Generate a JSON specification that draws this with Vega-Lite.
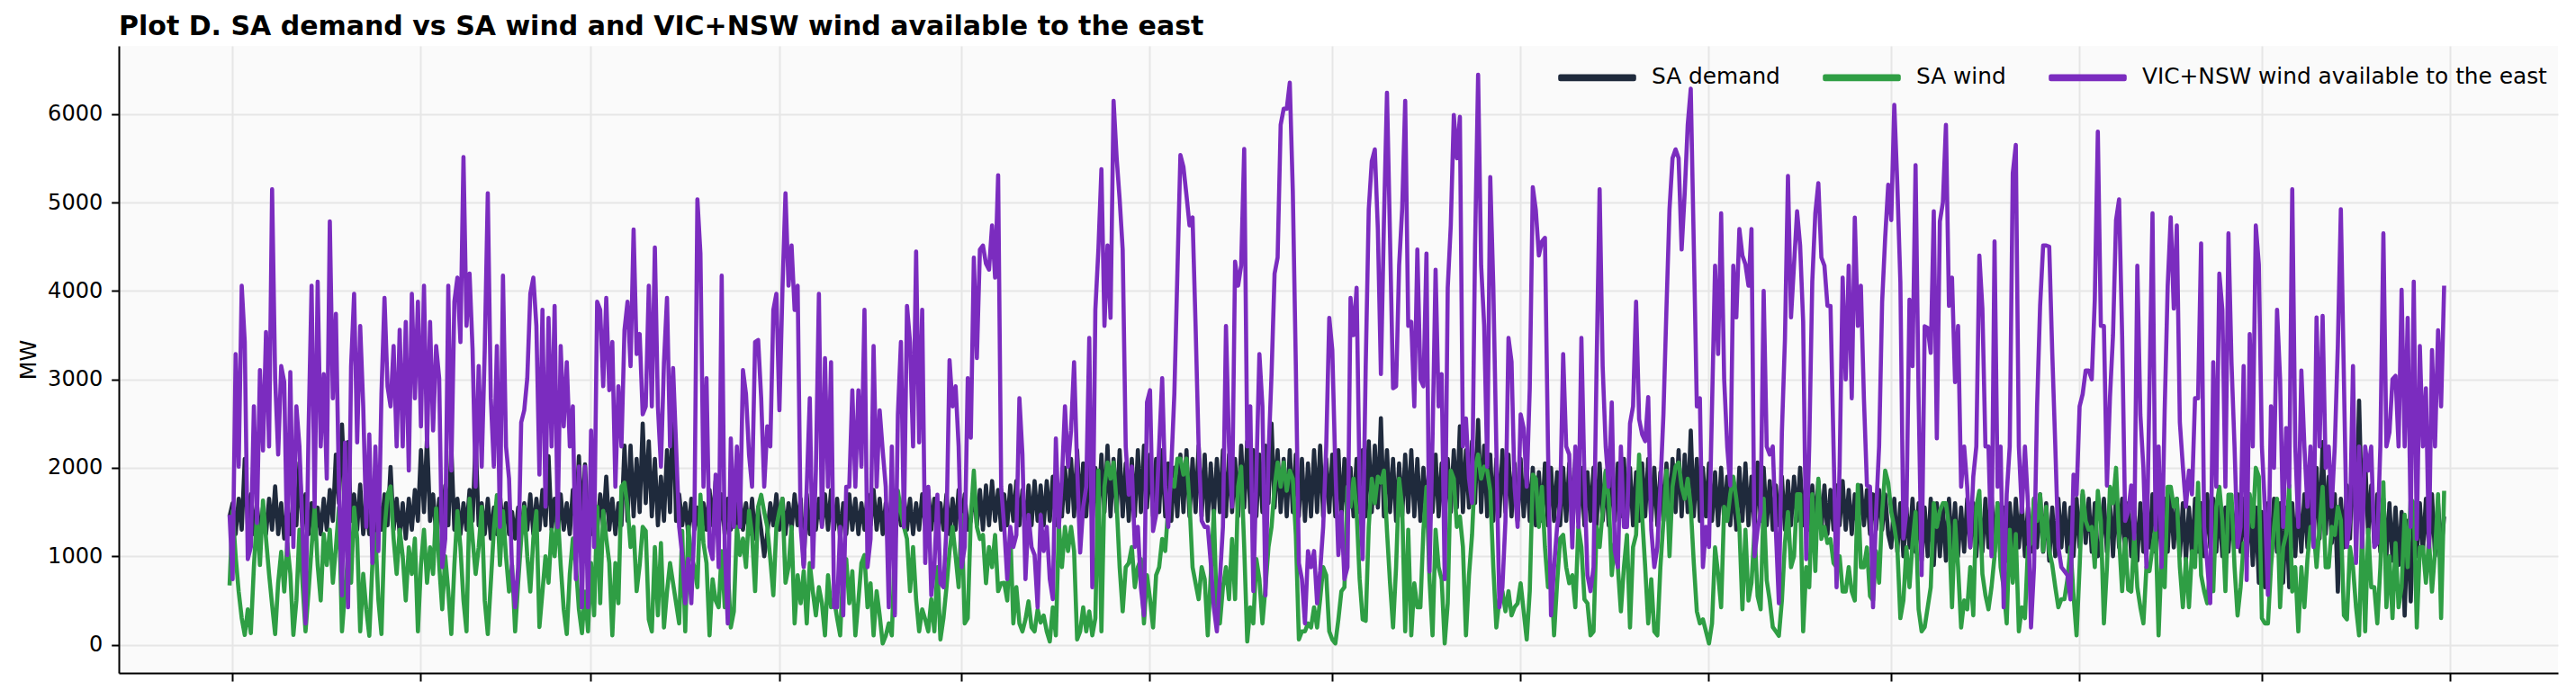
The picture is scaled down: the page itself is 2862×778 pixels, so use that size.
{
"$schema":"https://vega.github.io/schema/vega-lite/v6.json",
"width":2710,"height":697,
"autosize":{"type":"none"},
"padding":{"left":132,"top":51,"right":20,"bottom":30},
"background":"#ffffff",
"title":{"text":"Plot D. SA demand vs SA wind and VIC+NSW wind available to the east","anchor":"start","frame":"group","font":"DejaVu Sans","fontSize":30,"fontWeight":"bold","color":"#000000","offset":-2},
"config":{
"view":{"fill":"#fafafa","stroke":null},
"axis":{"domainColor":"#000000","domainWidth":2,"tickColor":"#000000","tickWidth":2,"gridColor":"#e6e6e6","gridWidth":2,"labelFont":"DejaVu Sans","labelFontSize":24,"labelColor":"#000000","titleFont":"DejaVu Sans","titleFontSize":24,"titleFontWeight":"normal","titleColor":"#000000"},
"legend":{"symbolType":"M-1,-0.04H1V0.04H-1Z","symbolSize":6724,"labelFont":"DejaVu Sans","labelFontSize":24.8,"labelColor":"#000000","labelOffset":17,"columnPadding":47,"padding":0,"labelLimit":0},
"line":{"strokeWidth":4.6,"strokeJoin":"round"}
},
"data":{"values":[
{"x":0,"d":1450,"w":670,"v":1468},{"x":0.5,"d":1600,"w":1510,"v":741},{"x":1,"d":1250,"w":1000,"v":3286},{"x":1.5,"d":1650,"w":600,"v":2013},{"x":2,"d":1300,"w":300,"v":4059},{"x":2.5,"d":2100,"w":110,"v":3422},{"x":3,"d":1350,"w":400,"v":968},{"x":3.5,"d":1700,"w":130,"v":1104},{"x":4,"d":1250,"w":880,"v":2695},{"x":4.5,"d":1600,"w":1470,"v":1377},
{"x":5,"d":1200,"w":900,"v":3104},{"x":5.5,"d":1550,"w":1630,"v":2195},{"x":6,"d":1250,"w":1200,"v":3536},{"x":6.5,"d":1650,"w":800,"v":2241},{"x":7,"d":1300,"w":450,"v":5150},{"x":7.5,"d":1790,"w":120,"v":3013},{"x":8,"d":1250,"w":700,"v":2150},{"x":8.5,"d":1600,"w":1050,"v":3150},{"x":9,"d":1200,"w":600,"v":2968},{"x":9.5,"d":1550,"w":1150,"v":1014},
{"x":10,"d":1250,"w":800,"v":3081},{"x":10.5,"d":1650,"w":110,"v":1104},{"x":11,"d":1350,"w":500,"v":2695},{"x":11.5,"d":2060,"w":1300,"v":2241},{"x":12,"d":1300,"w":700,"v":1332},{"x":12.5,"d":1700,"w":150,"v":241},{"x":13,"d":1250,"w":600,"v":2422},{"x":13.5,"d":1600,"w":1100,"v":4059},{"x":14,"d":1200,"w":1550,"v":1559},{"x":14.5,"d":1550,"w":900,"v":4104},
{"x":15,"d":1250,"w":500,"v":2241},{"x":15.5,"d":1650,"w":1250,"v":3059},{"x":16,"d":1300,"w":900,"v":1877},{"x":16.5,"d":1750,"w":1300,"v":4786},{"x":17,"d":1400,"w":700,"v":2786},{"x":17.5,"d":2150,"w":1100,"v":3740},{"x":18,"d":1600,"w":1550,"v":1786},{"x":18.5,"d":2490,"w":150,"v":559},{"x":19,"d":1700,"w":600,"v":2286},{"x":19.5,"d":2290,"w":1000,"v":423},
{"x":20,"d":1400,"w":700,"v":3150},{"x":20.5,"d":1700,"w":1550,"v":3968},{"x":21,"d":1300,"w":1200,"v":2286},{"x":21.5,"d":1810,"w":150,"v":3604},{"x":22,"d":1250,"w":800,"v":2695},{"x":22.5,"d":1600,"w":400,"v":1332},{"x":23,"d":1250,"w":100,"v":2377},{"x":23.5,"d":1550,"w":900,"v":923},{"x":24,"d":1200,"w":1250,"v":2241},{"x":24.5,"d":1650,"w":500,"v":1059},
{"x":25,"d":1300,"w":120,"v":2832},{"x":25.5,"d":1700,"w":1300,"v":3922},{"x":26,"d":1350,"w":1700,"v":2922},{"x":26.5,"d":2010,"w":1790,"v":2695},{"x":27,"d":1300,"w":1200,"v":3377},{"x":27.5,"d":1650,"w":800,"v":2241},{"x":28,"d":1250,"w":1300,"v":3559},{"x":28.5,"d":1600,"w":1000,"v":2241},{"x":29,"d":1200,"w":500,"v":3650},{"x":29.5,"d":1650,"w":1100,"v":1968},
{"x":30,"d":1300,"w":800,"v":3968},{"x":30.5,"d":1750,"w":1200,"v":2786},{"x":31,"d":1400,"w":150,"v":3877},{"x":31.5,"d":2200,"w":900,"v":2468},{"x":32,"d":1500,"w":1300,"v":4059},{"x":32.5,"d":2350,"w":700,"v":2241},{"x":33,"d":1400,"w":1100,"v":3650},{"x":33.5,"d":1700,"w":800,"v":2422},{"x":34,"d":1250,"w":1540,"v":3377},{"x":34.5,"d":1650,"w":900,"v":3013},
{"x":35,"d":1300,"w":400,"v":877},{"x":35.5,"d":1800,"w":1000,"v":1195},{"x":36,"d":1350,"w":600,"v":4059},{"x":36.5,"d":2240,"w":120,"v":1968},{"x":37,"d":1300,"w":900,"v":3877},{"x":37.5,"d":1650,"w":1510,"v":4150},{"x":38,"d":1250,"w":1100,"v":3422},{"x":38.5,"d":1600,"w":500,"v":5513},{"x":39,"d":1300,"w":150,"v":3604},{"x":39.5,"d":1750,"w":1650,"v":4195},
{"x":40,"d":1400,"w":1200,"v":3331},{"x":40.5,"d":2310,"w":800,"v":1786},{"x":41,"d":1350,"w":1100,"v":3150},{"x":41.5,"d":1600,"w":1560,"v":2013},{"x":42,"d":1250,"w":500,"v":3331},{"x":42.5,"d":1650,"w":120,"v":5104},{"x":43,"d":1200,"w":700,"v":2786},{"x":43.5,"d":1550,"w":1300,"v":2013},{"x":44,"d":1250,"w":1690,"v":3377},{"x":44.5,"d":1700,"w":900,"v":1332},
{"x":45,"d":1300,"w":1510,"v":4172},{"x":45.5,"d":1600,"w":1000,"v":2241},{"x":46,"d":1250,"w":600,"v":1877},{"x":46.5,"d":1500,"w":900,"v":832},{"x":47,"d":1200,"w":150,"v":423},{"x":47.5,"d":1550,"w":700,"v":877},{"x":48,"d":1250,"w":1200,"v":2513},{"x":48.5,"d":1600,"w":1560,"v":2650},{"x":49,"d":1300,"w":1000,"v":3013},{"x":49.5,"d":1700,"w":600,"v":3968},
{"x":50,"d":1250,"w":1200,"v":4150},{"x":50.5,"d":1650,"w":1510,"v":3604},{"x":51,"d":1300,"w":200,"v":1923},{"x":51.5,"d":1750,"w":600,"v":3786},{"x":52,"d":1350,"w":1000,"v":1559},{"x":52.5,"d":2130,"w":700,"v":3695},{"x":53,"d":1300,"w":1300,"v":2241},{"x":53.5,"d":1650,"w":1000,"v":3831},{"x":54,"d":1250,"w":1510,"v":1332},{"x":54.5,"d":1700,"w":900,"v":3377},
{"x":55,"d":1300,"w":400,"v":2468},{"x":55.5,"d":1600,"w":120,"v":3195},{"x":56,"d":1250,"w":800,"v":2241},{"x":56.5,"d":1750,"w":1200,"v":2695},{"x":57,"d":1400,"w":900,"v":741},{"x":57.5,"d":2130,"w":400,"v":2013},{"x":58,"d":1350,"w":130,"v":423},{"x":58.5,"d":2040,"w":600,"v":2013},{"x":59,"d":1300,"w":150,"v":423},
{"x":59.5,"d":1250,"w":923,"v":2422},{"x":60,"d":1600,"w":332,"v":1104},{"x":60.5,"d":1300,"w":1559,"v":3877},{"x":61,"d":1700,"w":468,"v":3786},{"x":61.5,"d":1350,"w":1513,"v":2922},{"x":62,"d":1900,"w":1200,"v":3922},{"x":62.5,"d":1300,"w":923,"v":2877},{"x":63,"d":1650,"w":105,"v":3422},{"x":63.5,"d":1250,"w":923,"v":1786},{"x":64,"d":1600,"w":468,"v":2922},
{"x":64.5,"d":1350,"w":1786,"v":2241},{"x":65,"d":2250,"w":1832,"v":3559},{"x":65.5,"d":1400,"w":1559,"v":3877},{"x":66,"d":2250,"w":1104,"v":3150},{"x":66.5,"d":1450,"w":1332,"v":4695},{"x":67,"d":2100,"w":605,"v":3286},{"x":67.5,"d":1500,"w":900,"v":3513},{"x":68,"d":2500,"w":1332,"v":2604},{"x":68.5,"d":1600,"w":1286,"v":2695},{"x":69,"d":2300,"w":286,"v":4059},
{"x":69.5,"d":1450,"w":150,"v":2695},{"x":70,"d":2100,"w":1104,"v":4490},{"x":70.5,"d":1350,"w":332,"v":2695},{"x":71,"d":1900,"w":1150,"v":2013},{"x":71.5,"d":1400,"w":195,"v":3195},{"x":72,"d":2200,"w":600,"v":3922},{"x":72.5,"d":1500,"w":923,"v":2241},{"x":73,"d":2790,"w":695,"v":3127},{"x":73.5,"d":1400,"w":468,"v":2241},{"x":74,"d":1700,"w":241,"v":1332},
{"x":74.5,"d":1350,"w":1286,"v":1014},{"x":75,"d":1600,"w":150,"v":468},{"x":75.5,"d":1250,"w":1332,"v":968},{"x":76,"d":1650,"w":1000,"v":468},{"x":76.5,"d":1300,"w":877,"v":1332},{"x":77,"d":1550,"w":650,"v":5036},{"x":77.5,"d":1200,"w":1695,"v":4422},{"x":78,"d":1600,"w":1150,"v":1786},{"x":78.5,"d":1300,"w":923,"v":3013},{"x":79,"d":1750,"w":105,"v":1104},
{"x":79.5,"d":1350,"w":741,"v":968},{"x":80,"d":1850,"w":500,"v":1923},{"x":80.5,"d":1300,"w":423,"v":877},{"x":81,"d":1700,"w":1059,"v":4172},{"x":81.5,"d":1250,"w":423,"v":1104},{"x":82,"d":1650,"w":877,"v":241},{"x":82.5,"d":1300,"w":195,"v":2332},{"x":83,"d":1900,"w":377,"v":1332},{"x":83.5,"d":1350,"w":1332,"v":2241},{"x":84,"d":1700,"w":1014,"v":1332},
{"x":84.5,"d":1300,"w":1200,"v":3104},{"x":85,"d":1600,"w":877,"v":2832},{"x":85.5,"d":1250,"w":1513,"v":2150},{"x":86,"d":1650,"w":1241,"v":1786},{"x":86.5,"d":1200,"w":605,"v":3422},{"x":87,"d":1550,"w":1559,"v":3445},{"x":87.5,"d":1300,"w":1695,"v":2786},{"x":88,"d":1000,"w":1500,"v":1786},{"x":88.5,"d":1250,"w":1332,"v":2468},{"x":89,"d":1600,"w":968,"v":2241},
{"x":89.5,"d":1350,"w":559,"v":3786},{"x":90,"d":1700,"w":1332,"v":3968},{"x":90.5,"d":1300,"w":1513,"v":2650},{"x":91,"d":1650,"w":1650,"v":4013},{"x":91.5,"d":1250,"w":700,"v":5104},{"x":92,"d":1600,"w":877,"v":4059},{"x":92.5,"d":1300,"w":1332,"v":4513},{"x":93,"d":1700,"w":241,"v":3786},{"x":93.5,"d":1350,"w":786,"v":4059},{"x":94,"d":1650,"w":468,"v":1332},
{"x":94.5,"d":900,"w":832,"v":877},{"x":95,"d":1700,"w":241,"v":1786},{"x":95.5,"d":1250,"w":923,"v":2786},{"x":96,"d":1600,"w":600,"v":877},{"x":96.5,"d":1300,"w":332,"v":1968},{"x":97,"d":1650,"w":650,"v":3968},{"x":97.5,"d":1350,"w":468,"v":1332},{"x":98,"d":1700,"w":105,"v":3240},{"x":98.5,"d":1300,"w":786,"v":1786},{"x":99,"d":1750,"w":423,"v":3195},
{"x":99.5,"d":1300,"w":514,"v":423},{"x":100,"d":1650,"w":300,"v":423},{"x":100.5,"d":1200,"w":105,"v":1332},{"x":101,"d":1600,"w":877,"v":332},{"x":101.5,"d":1250,"w":968,"v":1786},{"x":102,"d":1700,"w":468,"v":1786},{"x":102.5,"d":1300,"w":832,"v":2877},{"x":103,"d":1650,"w":105,"v":1786},{"x":103.5,"d":1250,"w":500,"v":2877},{"x":104,"d":1600,"w":923,"v":2013},
{"x":104.5,"d":1300,"w":1014,"v":3786},{"x":105,"d":1700,"w":423,"v":877},{"x":105.5,"d":1350,"w":695,"v":1195},{"x":106,"d":1750,"w":105,"v":3377},{"x":106.5,"d":1300,"w":605,"v":1786},{"x":107,"d":1650,"w":332,"v":2650},{"x":107.5,"d":1250,"w":14,"v":2195},{"x":108,"d":1600,"w":100,"v":1786},{"x":108.5,"d":1300,"w":241,"v":423},{"x":109,"d":1700,"w":105,"v":2241},
{"x":109.5,"d":1250,"w":1104,"v":332},{"x":110,"d":1650,"w":1741,"v":2604},{"x":110.5,"d":1350,"w":1500,"v":3422},{"x":111,"d":1700,"w":1332,"v":1332},{"x":111.5,"d":1300,"w":1195,"v":3831},{"x":112,"d":1650,"w":605,"v":3422},{"x":112.5,"d":1250,"w":1104,"v":2241},{"x":113,"d":1600,"w":514,"v":4445},{"x":113.5,"d":1300,"w":150,"v":2286},{"x":114,"d":1700,"w":400,"v":3786},
{"x":114.5,"d":1350,"w":286,"v":923},{"x":115,"d":1750,"w":150,"v":1786},{"x":115.5,"d":1300,"w":514,"v":559},{"x":116,"d":1650,"w":150,"v":877},{"x":116.5,"d":1250,"w":877,"v":1695},{"x":117,"d":1600,"w":59,"v":695},{"x":117.5,"d":1300,"w":300,"v":650},{"x":118,"d":1700,"w":650,"v":1332},{"x":118.5,"d":1250,"w":1059,"v":3218},{"x":119,"d":1650,"w":1332,"v":2695},
{"x":119.5,"d":1300,"w":1000,"v":2922},{"x":120,"d":1750,"w":650,"v":2241},{"x":120.5,"d":1350,"w":1468,"v":877},{"x":121,"d":1700,"w":241,"v":1104},{"x":121.5,"d":1300,"w":300,"v":3013},
{"x":122,"d":1400,"w":1430,"v":2340},{"x":122.5,"d":1800,"w":1968,"v":4377},{"x":123,"d":1350,"w":1332,"v":3240},{"x":123.5,"d":1750,"w":1195,"v":4468},{"x":124,"d":1300,"w":1241,"v":4513},{"x":124.5,"d":1800,"w":695,"v":4308},{"x":125,"d":1350,"w":1104,"v":4240},{"x":125.5,"d":1850,"w":877,"v":4740},{"x":126,"d":1400,"w":1241,"v":4150},{"x":126.5,"d":1750,"w":605,"v":5308},
{"x":127,"d":1300,"w":695,"v":1786},{"x":127.5,"d":1700,"w":700,"v":1332},{"x":128,"d":1350,"w":500,"v":741},{"x":128.5,"d":1800,"w":1286,"v":1332},{"x":129,"d":1400,"w":241,"v":1104},{"x":129.5,"d":1850,"w":650,"v":1240},{"x":130,"d":1350,"w":241,"v":2786},{"x":130.5,"d":1750,"w":150,"v":2150},{"x":131,"d":1300,"w":286,"v":741},{"x":131.5,"d":1800,"w":490,"v":1468},
{"x":132,"d":1350,"w":195,"v":1104},{"x":132.5,"d":1850,"w":150,"v":1014},{"x":133,"d":1400,"w":400,"v":423},{"x":133.5,"d":1800,"w":250,"v":1468},{"x":134,"d":1350,"w":330,"v":1059},{"x":134.5,"d":1850,"w":150,"v":1332},{"x":135,"d":1400,"w":36,"v":741},{"x":135.5,"d":1900,"w":423,"v":514},{"x":136,"d":1350,"w":105,"v":2332},{"x":136.5,"d":1800,"w":1354,"v":1332},
{"x":137,"d":1450,"w":877,"v":1877},{"x":137.5,"d":2000,"w":1332,"v":2695},{"x":138,"d":1500,"w":1059,"v":2013},{"x":138.5,"d":2100,"w":1332,"v":2422},{"x":139,"d":1450,"w":1059,"v":3195},{"x":139.5,"d":2200,"w":59,"v":2013},{"x":140,"d":1500,"w":150,"v":1041},{"x":140.5,"d":2050,"w":423,"v":1559},{"x":141,"d":1450,"w":150,"v":1786},{"x":141.5,"d":2100,"w":377,"v":3468},
{"x":142,"d":1400,"w":105,"v":650},{"x":142.5,"d":2000,"w":300,"v":3786},{"x":143,"d":1450,"w":1968,"v":4468},{"x":143.5,"d":2150,"w":150,"v":5377},{"x":144,"d":1500,"w":1786,"v":3604},{"x":144.5,"d":2250,"w":2059,"v":4513},{"x":145,"d":1450,"w":1877,"v":3695},{"x":145.5,"d":2100,"w":2059,"v":6150},{"x":146,"d":1500,"w":1604,"v":5513},{"x":146.5,"d":2200,"w":877,"v":5036},
{"x":147,"d":1450,"w":377,"v":4468},{"x":147.5,"d":2050,"w":877,"v":2241},{"x":148,"d":1400,"w":923,"v":1695},{"x":148.5,"d":2100,"w":1104,"v":2013},{"x":149,"d":1450,"w":650,"v":1104},{"x":149.5,"d":2200,"w":877,"v":1332},{"x":150,"d":1500,"w":968,"v":650},{"x":150.5,"d":2250,"w":241,"v":332},{"x":151,"d":1550,"w":786,"v":2740},{"x":151.5,"d":2150,"w":514,"v":2877},
{"x":152,"d":1450,"w":195,"v":1286},{"x":152.5,"d":2100,"w":786,"v":1468},{"x":153,"d":1500,"w":877,"v":2241},{"x":153.5,"d":2200,"w":1195,"v":3013},{"x":154,"d":1450,"w":1059,"v":1786},{"x":154.5,"d":2050,"w":1559,"v":1332},{"x":155,"d":1400,"w":1877,"v":2013},{"x":155.5,"d":2000,"w":1786,"v":2831},{"x":156,"d":1450,"w":2104,"v":4195},{"x":156.5,"d":2150,"w":2104,"v":5536},
{"x":157,"d":1500,"w":1923,"v":5400},{"x":157.5,"d":2200,"w":2104,"v":5081},{"x":158,"d":1450,"w":1604,"v":4740},{"x":158.5,"d":2100,"w":877,"v":4831},{"x":159,"d":1500,"w":695,"v":3604},{"x":159.5,"d":2250,"w":514,"v":2241},{"x":160,"d":1450,"w":877,"v":1400},{"x":160.5,"d":2150,"w":741,"v":1332},{"x":161,"d":1400,"w":105,"v":1332},{"x":161.5,"d":2050,"w":786,"v":923},
{"x":162,"d":1450,"w":1513,"v":423},{"x":162.5,"d":2100,"w":332,"v":150},{"x":163,"d":1500,"w":241,"v":741},{"x":163.5,"d":2200,"w":650,"v":1332},{"x":164,"d":1450,"w":877,"v":3604},{"x":164.5,"d":2150,"w":514,"v":2241},{"x":165,"d":1500,"w":1195,"v":1559},{"x":165.5,"d":2100,"w":514,"v":4331},{"x":166,"d":1450,"w":1786,"v":4059},{"x":166.5,"d":2250,"w":2013,"v":4286},
{"x":167,"d":1550,"w":1104,"v":5604},{"x":167.5,"d":2300,"w":36,"v":2241},{"x":168,"d":1500,"w":423,"v":2695},{"x":168.5,"d":2200,"w":241,"v":605},{"x":169,"d":1450,"w":968,"v":1923},{"x":169.5,"d":2150,"w":741,"v":3286},{"x":170,"d":1500,"w":241,"v":2695},{"x":170.5,"d":2250,"w":650,"v":559},{"x":171,"d":1600,"w":1104,"v":2150},{"x":171.5,"d":2500,"w":1332,"v":3059},
{"x":172,"d":1550,"w":1786,"v":4195},{"x":172.5,"d":2200,"w":2059,"v":4377},{"x":173,"d":1500,"w":1786,"v":5877},{"x":173.5,"d":2100,"w":2059,"v":6059},{"x":174,"d":1450,"w":1741,"v":6059},{"x":174.5,"d":2200,"w":1968,"v":6354},{"x":175,"d":1500,"w":1877,"v":5127},{"x":175.5,"d":2150,"w":1241,"v":3150},{"x":176,"d":1450,"w":59,"v":923},{"x":176.5,"d":2100,"w":150,"v":741},
{"x":177,"d":1400,"w":150,"v":241},{"x":177.5,"d":2050,"w":241,"v":1059},{"x":178,"d":1450,"w":195,"v":877},{"x":178.5,"d":2200,"w":423,"v":1059},{"x":179,"d":1500,"w":195,"v":468},{"x":179.5,"d":2250,"w":514,"v":832},{"x":180,"d":1450,"w":877,"v":1332},{"x":180.5,"d":2100,"w":786,"v":2241},{"x":181,"d":1500,"w":150,"v":3695},{"x":181.5,"d":2150,"w":59,"v":3331},
{"x":182,"d":1450,"w":14,"v":2013},{"x":182.5,"d":2200,"w":286,"v":1014},{"x":183,"d":1400,"w":605,"v":1500},{"x":183.5,"d":2100,"w":650,"v":741},
{"x":184,"d":1400,"w":1786,"v":877},{"x":184.5,"d":2000,"w":1559,"v":3922},{"x":185,"d":1450,"w":1877,"v":3500},{"x":185.5,"d":2100,"w":1513,"v":4036},{"x":186,"d":1500,"w":741,"v":1786},{"x":186.5,"d":2200,"w":286,"v":968},{"x":187,"d":1450,"w":270,"v":3150},{"x":187.5,"d":2300,"w":1332,"v":4922},{"x":188,"d":1500,"w":1877,"v":5468},{"x":188.5,"d":2250,"w":1600,"v":5600},
{"x":189,"d":1550,"w":1900,"v":4695},{"x":189.5,"d":2560,"w":1832,"v":3059},{"x":190,"d":1450,"w":1968,"v":4786},{"x":190.5,"d":2200,"w":1286,"v":6240},{"x":191,"d":1500,"w":700,"v":4604},{"x":191.5,"d":2100,"w":195,"v":2900},{"x":192,"d":1400,"w":877,"v":2922},{"x":192.5,"d":2050,"w":1877,"v":4286},{"x":193,"d":1450,"w":1559,"v":4922},{"x":193.5,"d":2150,"w":150,"v":6150},
{"x":194,"d":1500,"w":1300,"v":3604},{"x":194.5,"d":2200,"w":105,"v":3650},{"x":195,"d":1450,"w":695,"v":2695},{"x":195.5,"d":2100,"w":423,"v":4468},{"x":196,"d":1400,"w":423,"v":3000},{"x":196.5,"d":2000,"w":1300,"v":2922},{"x":197,"d":1450,"w":1786,"v":4422},{"x":197.5,"d":2100,"w":741,"v":827},{"x":198,"d":1500,"w":105,"v":2332},{"x":198.5,"d":2150,"w":1300,"v":4240},
{"x":199,"d":1450,"w":877,"v":2695},{"x":199.5,"d":2050,"w":741,"v":3059},{"x":200,"d":1400,"w":14,"v":741},{"x":200.5,"d":2100,"w":468,"v":4036},{"x":201,"d":1500,"w":1968,"v":4740},{"x":201.5,"d":2200,"w":1877,"v":5990},{"x":202,"d":1550,"w":1332,"v":5500},{"x":202.5,"d":2470,"w":1450,"v":5968},{"x":203,"d":1500,"w":1104,"v":2241},{"x":203.5,"d":2200,"w":105,"v":2559},
{"x":204,"d":1550,"w":786,"v":1877},{"x":204.5,"d":2300,"w":1241,"v":1604},{"x":205,"d":1600,"w":2000,"v":4513},{"x":205.5,"d":2540,"w":2150,"v":6445},{"x":206,"d":1500,"w":1877,"v":4286},{"x":206.5,"d":2250,"w":2013,"v":3604},{"x":207,"d":1450,"w":1968,"v":2013},{"x":207.5,"d":2150,"w":1741,"v":5286},{"x":208,"d":1400,"w":877,"v":4059},{"x":208.5,"d":2100,"w":195,"v":2241},
{"x":209,"d":1450,"w":514,"v":423},{"x":209.5,"d":2200,"w":605,"v":650},{"x":210,"d":1500,"w":377,"v":1400},{"x":210.5,"d":2150,"w":605,"v":3468},{"x":211,"d":1450,"w":332,"v":3200},{"x":211.5,"d":2050,"w":423,"v":1786},{"x":212,"d":1400,"w":468,"v":1332},{"x":212.5,"d":2100,"w":695,"v":2604},{"x":213,"d":1450,"w":377,"v":2450},{"x":213.5,"d":2000,"w":59,"v":1786},
{"x":214,"d":1400,"w":605,"v":2900},{"x":214.5,"d":2000,"w":1923,"v":5172},{"x":215,"d":1350,"w":1877,"v":4913},{"x":215.5,"d":1950,"w":1332,"v":4400},{"x":216,"d":1400,"w":1786,"v":4559},{"x":216.5,"d":2050,"w":1104,"v":4600},{"x":217,"d":1350,"w":650,"v":2241},{"x":217.5,"d":2000,"w":877,"v":332},{"x":218,"d":1400,"w":105,"v":877},{"x":218.5,"d":1950,"w":695,"v":1332},
{"x":219,"d":1350,"w":1200,"v":1600},{"x":219.5,"d":2000,"w":1241,"v":3286},{"x":220,"d":1400,"w":877,"v":2241},{"x":220.5,"d":2050,"w":695,"v":2150},{"x":221,"d":1450,"w":786,"v":1100},{"x":221.5,"d":2100,"w":423,"v":2241},{"x":222,"d":1400,"w":1332,"v":1332},{"x":222.5,"d":2000,"w":1104,"v":3468},{"x":223,"d":1350,"w":514,"v":1877},{"x":223.5,"d":1950,"w":468,"v":786},
{"x":224,"d":1400,"w":105,"v":605},{"x":224.5,"d":2000,"w":150,"v":877},{"x":225,"d":1350,"w":1332,"v":3150},{"x":225.5,"d":2050,"w":1104,"v":5150},{"x":226,"d":1400,"w":1513,"v":3150},{"x":226.5,"d":1950,"w":1968,"v":2241},{"x":227,"d":1350,"w":1650,"v":1786},{"x":227.5,"d":2000,"w":786,"v":2740},{"x":228,"d":1400,"w":1150,"v":1059},{"x":228.5,"d":2050,"w":877,"v":877},
{"x":229,"d":1450,"w":377,"v":2241},{"x":229.5,"d":2100,"w":877,"v":1332},{"x":230,"d":1400,"w":1241,"v":1332},{"x":230.5,"d":2000,"w":195,"v":2500},{"x":231,"d":1350,"w":1104,"v":2695},{"x":231.5,"d":1950,"w":1241,"v":3877},{"x":232,"d":1400,"w":2150,"v":2550},{"x":232.5,"d":2050,"w":1450,"v":2377},{"x":233,"d":1450,"w":877,"v":2300},{"x":233.5,"d":2100,"w":241,"v":2800},
{"x":234,"d":1400,"w":741,"v":1300},{"x":234.5,"d":2000,"w":150,"v":877},{"x":235,"d":1350,"w":105,"v":1100},{"x":235.5,"d":1950,"w":877,"v":1786},{"x":236,"d":1400,"w":1400,"v":2600},{"x":236.5,"d":2050,"w":1968,"v":3800},{"x":237,"d":1450,"w":1000,"v":4922},{"x":237.5,"d":2100,"w":1786,"v":5500},{"x":238,"d":1500,"w":2013,"v":5600},{"x":238.5,"d":2200,"w":2059,"v":5500},
{"x":239,"d":1450,"w":1786,"v":4468},{"x":239.5,"d":2150,"w":1650,"v":5100},{"x":240,"d":1500,"w":1877,"v":5877},{"x":240.5,"d":2420,"w":1559,"v":6286},{"x":241,"d":1450,"w":923,"v":4513},{"x":241.5,"d":2100,"w":377,"v":2695},{"x":242,"d":1400,"w":241,"v":2786},{"x":242.5,"d":2000,"w":286,"v":877},{"x":243,"d":1450,"w":150,"v":1332},{"x":243.5,"d":2050,"w":14,"v":1104},
{"x":244,"d":1400,"w":241,"v":2695},{"x":244.5,"d":1950,"w":1100,"v":4286},{"x":245,"d":1350,"w":800,"v":3286},{"x":245.5,"d":2000,"w":423,"v":4877},
{"x":246,"d":1400,"w":1559,"v":3000},{"x":246.5,"d":1900,"w":1400,"v":2241},{"x":247,"d":1350,"w":1700,"v":1800},{"x":247.5,"d":1850,"w":1900,"v":4286},{"x":248,"d":1300,"w":1650,"v":3700},{"x":248.5,"d":2000,"w":1332,"v":4700},{"x":249,"d":1400,"w":400,"v":4400},{"x":249.5,"d":2050,"w":1300,"v":4300},{"x":250,"d":1350,"w":500,"v":4059},{"x":250.5,"d":1900,"w":700,"v":4700},
{"x":251,"d":1300,"w":1300,"v":1000},{"x":251.5,"d":2060,"w":550,"v":1300},{"x":252,"d":1400,"w":400,"v":1500},{"x":252.5,"d":2000,"w":1650,"v":4000},{"x":253,"d":1350,"w":730,"v":2241},{"x":253.5,"d":1850,"w":500,"v":2150},{"x":254,"d":1300,"w":200,"v":2241},{"x":254.5,"d":1800,"w":150,"v":1300},{"x":255,"d":1350,"w":100,"v":470},{"x":255.5,"d":1900,"w":500,"v":2400},
{"x":256,"d":1300,"w":1150,"v":3450},{"x":256.5,"d":1850,"w":1500,"v":5300},{"x":257,"d":1350,"w":877,"v":3700},{"x":257.5,"d":1900,"w":1000,"v":4300},{"x":258,"d":1400,"w":1700,"v":4900},{"x":258.5,"d":2000,"w":1700,"v":4513},{"x":259,"d":1350,"w":150,"v":3650},{"x":259.5,"d":1850,"w":877,"v":968},{"x":260,"d":1300,"w":650,"v":2241},{"x":260.5,"d":1800,"w":1700,"v":4104},
{"x":261,"d":1350,"w":832,"v":4877},{"x":261.5,"d":1850,"w":1877,"v":5218},{"x":262,"d":1300,"w":1195,"v":4377},{"x":262.5,"d":1800,"w":1332,"v":4286},{"x":263,"d":1250,"w":1150,"v":3831},{"x":263.5,"d":1750,"w":1195,"v":3831},{"x":264,"d":1300,"w":923,"v":2241},{"x":264.5,"d":1800,"w":877,"v":650},{"x":265,"d":1350,"w":1000,"v":2013},{"x":265.5,"d":1850,"w":600,"v":4150},
{"x":266,"d":1300,"w":600,"v":3000},{"x":266.5,"d":1750,"w":877,"v":4286},{"x":267,"d":1250,"w":600,"v":2786},{"x":267.5,"d":1700,"w":500,"v":4830},{"x":268,"d":1300,"w":1809,"v":3604},{"x":268.5,"d":1800,"w":877,"v":4059},{"x":269,"d":1350,"w":877,"v":2786},{"x":269.5,"d":1750,"w":1100,"v":1800},{"x":270,"d":1250,"w":550,"v":1786},{"x":270.5,"d":1700,"w":500,"v":423},
{"x":271,"d":1300,"w":1059,"v":1500},{"x":271.5,"d":1750,"w":700,"v":2241},{"x":272,"d":1300,"w":1500,"v":3877},{"x":272.5,"d":1700,"w":1968,"v":4604},{"x":273,"d":1250,"w":1832,"v":5200},{"x":273.5,"d":1100,"w":1500,"v":4800},{"x":274,"d":1650,"w":1332,"v":6104},{"x":274.5,"d":1050,"w":1100,"v":5200},{"x":275,"d":1600,"w":300,"v":4100},{"x":275.5,"d":1000,"w":500,"v":1200},
{"x":276,"d":1550,"w":1100,"v":1500},{"x":276.5,"d":1100,"w":650,"v":3900},{"x":277,"d":1650,"w":1150,"v":3150},{"x":277.5,"d":1050,"w":1500,"v":5422},{"x":278,"d":1600,"w":400,"v":2800},{"x":278.5,"d":950,"w":150,"v":786},{"x":279,"d":1550,"w":200,"v":3600},{"x":279.5,"d":1000,"w":423,"v":3580},{"x":280,"d":1650,"w":650,"v":3300},{"x":280.5,"d":900,"w":1600,"v":4900},
{"x":281,"d":1600,"w":1332,"v":2332},{"x":281.5,"d":1000,"w":1513,"v":4786},{"x":282,"d":1550,"w":1600,"v":5000},{"x":282.5,"d":950,"w":1600,"v":5877},{"x":283,"d":1650,"w":1332,"v":3831},{"x":283.5,"d":1050,"w":423,"v":4150},{"x":284,"d":1600,"w":1400,"v":2968},{"x":284.5,"d":1000,"w":877,"v":3604},{"x":285,"d":1550,"w":195,"v":1786},{"x":285.5,"d":1050,"w":500,"v":2241},
{"x":286,"d":1650,"w":400,"v":1786},{"x":286.5,"d":1100,"w":877,"v":1104},{"x":287,"d":1600,"w":332,"v":1900},{"x":287.5,"d":1000,"w":1559,"v":2241},{"x":288,"d":1550,"w":1740,"v":4400},{"x":288.5,"d":1050,"w":800,"v":3800},{"x":289,"d":1650,"w":560,"v":2241},{"x":289.5,"d":1100,"w":400,"v":2241},{"x":290,"d":1700,"w":650,"v":1000},{"x":290.5,"d":1050,"w":1000,"v":4559},
{"x":291,"d":1600,"w":1600,"v":1786},{"x":291.5,"d":1000,"w":877,"v":2241},{"x":292,"d":1550,"w":650,"v":423},{"x":292.5,"d":950,"w":241,"v":1700},{"x":293,"d":1600,"w":1300,"v":2241},{"x":293.5,"d":1050,"w":700,"v":5331},{"x":294,"d":1650,"w":1250,"v":5650},{"x":294.5,"d":1100,"w":150,"v":2241},{"x":295,"d":1600,"w":423,"v":1500},{"x":295.5,"d":1000,"w":300,"v":2241},
{"x":296,"d":1550,"w":1100,"v":1600},{"x":296.5,"d":1050,"w":1150,"v":195},{"x":297,"d":1650,"w":1650,"v":877},{"x":297.5,"d":1100,"w":1400,"v":2695},{"x":298,"d":1700,"w":1700,"v":3831},{"x":298.5,"d":1050,"w":1059,"v":4513},{"x":299,"d":1600,"w":1559,"v":4513},{"x":299.5,"d":950,"w":1059,"v":4500},{"x":300,"d":1550,"w":900,"v":3300},{"x":300.5,"d":1000,"w":650,"v":2241},
{"x":301,"d":1650,"w":423,"v":1104},{"x":301.5,"d":1100,"w":514,"v":877},{"x":302,"d":1600,"w":514,"v":832},{"x":302.5,"d":1050,"w":741,"v":786},{"x":303,"d":1550,"w":1104,"v":513},{"x":303.5,"d":1000,"w":560,"v":1923},{"x":304,"d":1650,"w":105,"v":1695},{"x":304.5,"d":1100,"w":877,"v":2695},{"x":305,"d":1700,"w":1736,"v":2832},{"x":305.5,"d":1150,"w":1400,"v":3100},
{"x":306,"d":1650,"w":1300,"v":3100},{"x":306.5,"d":1050,"w":1332,"v":3000},{"x":307,"d":1600,"w":877,"v":3900},{"x":307.5,"d":1000,"w":1740,"v":5800},
{"x":308,"d":1100,"w":1400,"v":3604},{"x":308.5,"d":1650,"w":241,"v":3604},{"x":309,"d":1050,"w":877,"v":1800},{"x":309.5,"d":1600,"w":1786,"v":2800},{"x":310,"d":1000,"w":1600,"v":3500},{"x":310.5,"d":1700,"w":2000,"v":4800},{"x":311,"d":1100,"w":1200,"v":5036},{"x":311.5,"d":1650,"w":605,"v":3500},{"x":312,"d":1050,"w":1195,"v":1400},{"x":312.5,"d":1600,"w":623,"v":1500},
{"x":313,"d":1000,"w":600,"v":1800},{"x":313.5,"d":1550,"w":1250,"v":1200},{"x":314,"d":950,"w":650,"v":4286},{"x":314.5,"d":1600,"w":423,"v":2600},{"x":315,"d":1050,"w":241,"v":2000},{"x":315.5,"d":1650,"w":877,"v":877},{"x":316,"d":1100,"w":832,"v":2900},{"x":316.5,"d":1700,"w":1104,"v":4877},{"x":317,"d":1050,"w":1332,"v":1300},{"x":317.5,"d":1600,"w":105,"v":2241},
{"x":318,"d":1000,"w":1014,"v":877},{"x":318.5,"d":1650,"w":650,"v":2650},{"x":319,"d":1050,"w":1786,"v":4059},{"x":319.5,"d":1700,"w":1786,"v":4831},{"x":320,"d":1100,"w":1559,"v":3800},{"x":320.5,"d":1650,"w":1650,"v":4740},{"x":321,"d":1000,"w":877,"v":2513},{"x":321.5,"d":1600,"w":423,"v":2013},{"x":322,"d":950,"w":968,"v":1559},{"x":322.5,"d":1550,"w":423,"v":1968},
{"x":323,"d":1000,"w":1059,"v":1700},{"x":323.5,"d":1650,"w":877,"v":2786},{"x":324,"d":1050,"w":1832,"v":2786},{"x":324.5,"d":1600,"w":786,"v":4536},{"x":325,"d":1000,"w":605,"v":1332},{"x":325.5,"d":1700,"w":468,"v":923},{"x":326,"d":1100,"w":877,"v":468},{"x":326.5,"d":1650,"w":605,"v":3195},{"x":327,"d":1050,"w":1559,"v":1786},{"x":327.5,"d":1600,"w":1786,"v":4195},
{"x":328,"d":1000,"w":1400,"v":3786},{"x":328.5,"d":1550,"w":605,"v":1786},{"x":329,"d":1050,"w":1695,"v":4650},{"x":329.5,"d":1600,"w":1695,"v":3195},{"x":330,"d":1100,"w":877,"v":2241},{"x":330.5,"d":1700,"w":330,"v":1104},{"x":331,"d":1050,"w":650,"v":1332},{"x":331.5,"d":1650,"w":1150,"v":3150},{"x":332,"d":1000,"w":1059,"v":730},{"x":332.5,"d":1600,"w":1700,"v":3513},
{"x":333,"d":900,"w":1332,"v":2241},{"x":333.5,"d":1550,"w":2000,"v":4740},{"x":334,"d":700,"w":1900,"v":4300},{"x":334.5,"d":1500,"w":300,"v":2241},{"x":335,"d":650,"w":241,"v":1559},{"x":335.5,"d":1600,"w":241,"v":563},{"x":336,"d":1000,"w":877,"v":2695},{"x":336.5,"d":1650,"w":1332,"v":2000},{"x":337,"d":1050,"w":1650,"v":3786},{"x":337.5,"d":1600,"w":423,"v":3000},
{"x":338,"d":700,"w":1104,"v":1332},{"x":338.5,"d":1550,"w":1250,"v":2450},{"x":339,"d":650,"w":1800,"v":1786},{"x":339.5,"d":1600,"w":600,"v":5150},{"x":340,"d":1000,"w":877,"v":2241},{"x":340.5,"d":1650,"w":150,"v":1332},{"x":341,"d":1050,"w":877,"v":3100},{"x":341.5,"d":1700,"w":423,"v":2241},{"x":342,"d":1100,"w":968,"v":1559},{"x":342.5,"d":1800,"w":1332,"v":2241},
{"x":343,"d":1150,"w":1332,"v":1104},{"x":343.5,"d":2000,"w":877,"v":3700},{"x":344,"d":1200,"w":1332,"v":2241},{"x":344.5,"d":2290,"w":1786,"v":3718},{"x":345,"d":1250,"w":877,"v":2000},{"x":345.5,"d":1900,"w":877,"v":2241},{"x":346,"d":1150,"w":1332,"v":1559},{"x":346.5,"d":1700,"w":1241,"v":2241},{"x":347,"d":600,"w":1559,"v":3377},{"x":347.5,"d":1650,"w":1410,"v":4922},
{"x":348,"d":1100,"w":332,"v":3013},{"x":348.5,"d":1800,"w":286,"v":1104},{"x":349,"d":1200,"w":1104,"v":1400},{"x":349.5,"d":2240,"w":877,"v":3150},{"x":350,"d":1300,"w":423,"v":923},{"x":350.5,"d":2760,"w":105,"v":2241},{"x":351,"d":1400,"w":1332,"v":1104},{"x":351.5,"d":2100,"w":150,"v":2241},{"x":352,"d":1250,"w":1300,"v":1968},{"x":352.5,"d":1800,"w":650,"v":2241},
{"x":353,"d":1150,"w":650,"v":1104},{"x":353.5,"d":1700,"w":241,"v":1150},{"x":354,"d":1050,"w":877,"v":2241},{"x":354.5,"d":1650,"w":1836,"v":4650},{"x":355,"d":1000,"w":423,"v":2241},{"x":355.5,"d":1600,"w":1000,"v":2400},{"x":356,"d":950,"w":300,"v":3000},{"x":356.5,"d":1550,"w":1150,"v":3040},{"x":357,"d":900,"w":423,"v":2241},{"x":357.5,"d":1500,"w":650,"v":4013},
{"x":358,"d":330,"w":1470,"v":2241},{"x":358.5,"d":1400,"w":877,"v":3695},{"x":359,"d":490,"w":1650,"v":1332},{"x":359.5,"d":1550,"w":1600,"v":4104},{"x":360,"d":1000,"w":195,"v":1195},{"x":360.5,"d":1600,"w":1100,"v":3377},{"x":361,"d":1050,"w":1104,"v":2241},{"x":361.5,"d":1650,"w":700,"v":2900},{"x":362,"d":1100,"w":1200,"v":1104},{"x":362.5,"d":1700,"w":600,"v":3331},
{"x":363,"d":1000,"w":1050,"v":2241},{"x":363.5,"d":1600,"w":1700,"v":3554},{"x":364,"d":1050,"w":300,"v":2695},{"x":364.5,"d":1450,"w":1740,"v":4059}
]},
"encoding":{"x":{"field":"x","type":"quantitative","scale":{"domain":[-18.23,383.24],"nice":false,"zero":false},"axis":{"values":[0.44,31.44,59.44,90.44,120.44,151.44,181.44,212.44,243.44,273.44,304.44,334.44,365.44],"labels":false,"title":null,"grid":true,"tickSize":9}}},
"layer":[
{"mark":"line","encoding":{"y":{"field":"d","type":"quantitative","title":"MW","scale":{"domain":[-320,6770],"nice":false,"zero":false},"axis":{"values":[0,1000,2000,3000,4000,5000,6000],"format":"d","grid":true,"tickSize":8.3,"labelPadding":10,"titlePadding":8}},"color":{"datum":"SA demand","type":"nominal","scale":{"domain":["SA demand","SA wind","VIC+NSW wind available to the east"],"range":["#1f2a3c","#2f9e44","#7b2cbf"]},"legend":{"title":null,"orient":"none","legendX":1599,"legendY":-8.5,"direction":"horizontal"}}}},
{"mark":"line","encoding":{"y":{"field":"w","type":"quantitative","title":"MW","scale":{"domain":[-320,6770],"nice":false,"zero":false},"axis":{"values":[0,1000,2000,3000,4000,5000,6000],"format":"d","grid":true,"tickSize":8.3,"labelPadding":10,"titlePadding":8}},"color":{"datum":"SA wind","type":"nominal"}}},
{"mark":"line","encoding":{"y":{"field":"v","type":"quantitative","title":"MW","scale":{"domain":[-320,6770],"nice":false,"zero":false},"axis":{"values":[0,1000,2000,3000,4000,5000,6000],"format":"d","grid":true,"tickSize":8.3,"labelPadding":10,"titlePadding":8}},"color":{"datum":"VIC+NSW wind available to the east","type":"nominal"}}}
]
}
